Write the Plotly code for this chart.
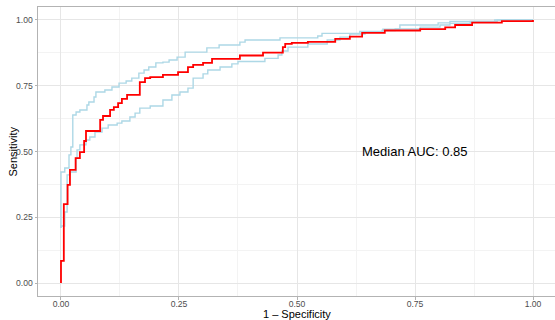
import plotly.graph_objects as go

# Median ROC curve (1 - specificity, sensitivity), step points
median_fpr = [0.0, 0.006, 0.014, 0.019, 0.031, 0.040, 0.049, 0.053, 0.083, 0.089, 0.104, 0.112,
              0.121, 0.129, 0.140, 0.167, 0.178, 0.189, 0.216, 0.248, 0.269, 0.280, 0.301, 0.320,
              0.379, 0.428, 0.470, 0.475, 0.489, 0.523, 0.581, 0.612, 0.638, 0.686, 0.761, 0.814,
              0.835, 0.871, 0.934, 1.0, 1.0]
median_tpr = [0.0, 0.084, 0.300, 0.373, 0.430, 0.475, 0.498, 0.540, 0.578, 0.620, 0.635, 0.658,
              0.669, 0.684, 0.700, 0.715, 0.764, 0.779, 0.783, 0.791, 0.802, 0.821, 0.829, 0.837,
              0.852, 0.865, 0.876, 0.897, 0.909, 0.913, 0.917, 0.928, 0.937, 0.951, 0.960, 0.965,
              0.972, 0.981, 0.990, 0.996, 1.0]

# Upper confidence bound
upper_fpr = [0.0, 0.008, 0.017, 0.021, 0.025, 0.032, 0.040, 0.055, 0.059, 0.070, 0.074, 0.093,
             0.108, 0.123, 0.138, 0.150, 0.165, 0.176, 0.186, 0.201, 0.216, 0.229, 0.246, 0.263,
             0.309, 0.335, 0.379, 0.390, 0.464, 0.544, 0.553, 0.633, 0.682, 0.718, 0.799, 0.824,
             0.924, 1.0]
upper_tpr = [0.209, 0.422, 0.437, 0.487, 0.517, 0.639, 0.650, 0.658, 0.677, 0.688, 0.707, 0.726,
             0.734, 0.745, 0.760, 0.768, 0.779, 0.798, 0.810, 0.821, 0.837, 0.840, 0.848, 0.859,
             0.878, 0.894, 0.905, 0.916, 0.924, 0.932, 0.939, 0.949, 0.956, 0.965, 0.981, 0.989,
             0.994, 1.0]

# Lower confidence bound
lower_fpr = [0.0, 0.008, 0.013, 0.019, 0.032, 0.034, 0.040, 0.053, 0.061, 0.072, 0.087, 0.100,
             0.119, 0.129, 0.146, 0.157, 0.167, 0.189, 0.216, 0.235, 0.252, 0.269, 0.280, 0.301,
             0.311, 0.337, 0.362, 0.375, 0.432, 0.460, 0.468, 0.481, 0.523, 0.564, 0.591, 0.612,
             0.644, 0.680, 0.708, 0.761, 0.803, 0.824, 0.867, 0.919, 1.0]
lower_tpr = [0.209, 0.217, 0.270, 0.411, 0.422, 0.475, 0.506, 0.525, 0.544, 0.555, 0.574, 0.589,
             0.601, 0.608, 0.616, 0.631, 0.646, 0.665, 0.673, 0.696, 0.715, 0.726, 0.741, 0.779,
             0.795, 0.810, 0.821, 0.833, 0.842, 0.854, 0.867, 0.882, 0.897, 0.909, 0.924, 0.935,
             0.947, 0.954, 0.960, 0.966, 0.973, 0.981, 0.987, 0.994, 1.0]

tick_vals = [0.0, 0.25, 0.5, 0.75, 1.0]
tick_text = ["0.00", "0.25", "0.50", "0.75", "1.00"]
auc_label = "Median AUC: 0.85"
x_title = "1 – Specificity"
y_title = "Sensitivity"

FONT = "Liberation Sans, Arial, sans-serif"

fig = go.Figure()
for xs, ys in [(upper_fpr, upper_tpr), (lower_fpr, lower_tpr)]:
    fig.add_trace(go.Scatter(x=xs, y=ys, mode="lines", line=dict(color="#add8e6", width=1.4, shape="vh"),
                             showlegend=False, hoverinfo="skip"))
fig.add_trace(go.Scatter(x=median_fpr, y=median_tpr, mode="lines",
                         line=dict(color="#ff0000", width=1.8, shape="vh"), showlegend=False))

fig.add_annotation(x=0.75, y=0.5, text=auc_label, showarrow=False, xref="x", yref="y",
                   font=dict(family=FONT, size=13, color="black"))
fig.add_annotation(x=0.5, y=0, xref="paper", yref="paper", text=x_title, showarrow=False,
                   yanchor="middle", xanchor="center", yshift=-18, borderpad=0,
                   font=dict(family=FONT, size=11, color="black"))
fig.add_annotation(x=0, y=0.5, xref="paper", yref="paper", text=y_title, showarrow=False,
                   textangle=-90, xanchor="center", yanchor="middle", xshift=-26,
                   font=dict(family=FONT, size=11, color="black"))

axis_common = dict(
    tickvals=tick_vals, ticktext=tick_text,
    tickfont=dict(family=FONT, size=8.6, color="#4d4d4d"),
    showgrid=True, gridcolor="#e6e6e6", gridwidth=0.7,
    minor=dict(dtick=0.125, tick0=0.125, showgrid=True, gridcolor="#f3f3f3", gridwidth=0.5, ticks=""),
    showline=True, linecolor="#b3b3b3", linewidth=1, mirror=True,
    ticks="outside", ticklen=2.5, tickcolor="#b3b3b3", tickwidth=1,
    zeroline=False,
)

fig.update_xaxes(range=[-0.0487, 1.0466], ticklabelstandoff=-3, **axis_common)
fig.update_yaxes(range=[-0.0494, 1.0494], **axis_common)

fig.update_layout(
    width=555, height=320,
    margin=dict(l=38, r=0, t=7, b=24, autoexpand=False),
    plot_bgcolor="white", paper_bgcolor="white",
    font=dict(family=FONT),
)

fig.write_html("out.html", config={"displayModeBar": False},
               post_script="document.body.style.margin='0';document.body.style.padding='0';")
